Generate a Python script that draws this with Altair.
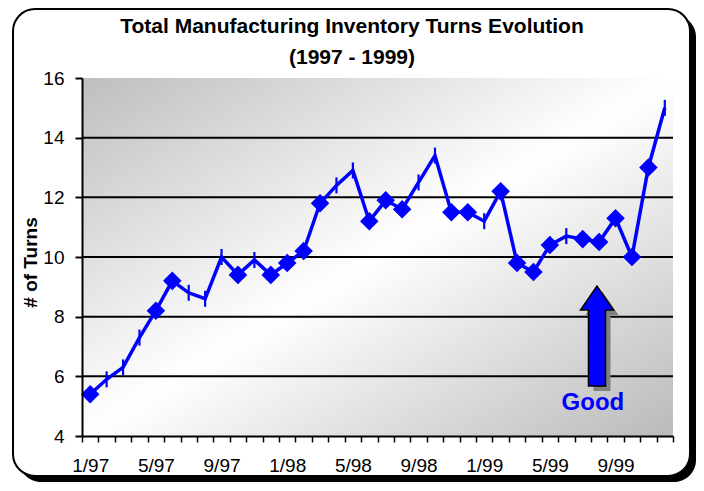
import altair as alt
import pandas as pd

# ---------------- data ----------------
months = ["1/97", "2/97", "3/97", "4/97", "5/97", "6/97", "7/97", "8/97", "9/97", "10/97", "11/97", "12/97",
          "1/98", "2/98", "3/98", "4/98", "5/98", "6/98", "7/98", "8/98", "9/98", "10/98", "11/98", "12/98",
          "1/99", "2/99", "3/99", "4/99", "5/99", "6/99", "7/99", "8/99", "9/99", "10/99", "11/99", "12/99"]
turns = [5.4, 5.9, 6.3, 7.3, 8.2, 9.2, 8.8, 8.6, 10.0, 9.4, 9.9, 9.4,
         9.8, 10.2, 11.8, 12.4, 12.9, 11.2, 11.9, 11.6, 12.5, 13.4, 11.5, 11.5,
         11.2, 12.2, 9.8, 9.5, 10.4, 10.7, 10.6, 10.5, 11.3, 10.0, 13.0, 15.0]
markers = ["diamond", "tick", "tick", "tick", "diamond", "diamond", "tick", "tick", "tick", "diamond", "tick", "diamond",
           "diamond", "diamond", "diamond", "tick", "tick", "diamond", "diamond", "diamond", "tick", "tick", "diamond", "diamond",
           "tick", "diamond", "diamond", "diamond", "diamond", "tick", "diamond", "diamond", "diamond", "diamond", "diamond", "tick"]
label_every = 4
y_ticks = [4, 6, 8, 10, 12, 14, 16]
grid_values = [6, 8, 10, 12, 14]

title_lines = ["Total Manufacturing Inventory Turns Evolution", "(1997 - 1999)"]
y_title = "# of Turns"

# annotation ("Good" arrow), in data units (month index, turns)
arrow_x = [30.87]
arrow_y = [7.35]
good_x = [30.62]
good_y = [5.1]
good_text = ["Good"]

# ---------------- layout ----------------
W, H = 591, 358
PAD = {"left": 74, "top": 70, "right": 23, "bottom": 47}
FONT = "Liberation Sans"
BLUE = "#0000FF"

df = pd.DataFrame({"idx": list(range(len(months))), "month": months,
                   "turns": turns, "marker": markers})

n = len(months)
x_scale = alt.Scale(domain=[-0.5, n - 0.5], nice=False, zero=False)
y_scale = alt.Scale(domain=[4, 16], nice=False, zero=False)

tick_values = [i - 0.5 for i in range(n + 1)]
arr = "[" + ",".join("'" + m + "'" for m in months) + "]"
label_expr = (f"(datum.value + 0.5) % {label_every} == 0 && datum.value < {n - 1} "
              f"? {arr}[datum.value + 0.5] : ''")

x_axis = alt.Axis(values=tick_values, tickCount=len(tick_values) + 5, labelExpr=label_expr,
                  labelOffset=W / n / 2,
                  labelFlush=False, labelOverlap=False, labelBound=False,
                  title=None, grid=False, tickSize=6, tickWidth=1.5, tickColor="black",
                  domainColor="black", domainWidth=2, labelFontSize=19, labelFont=FONT,
                  labelColor="black", labelPadding=14, zindex=1)
y_axis = alt.Axis(values=y_ticks, title=y_title, grid=False, tickSize=7, tickWidth=2,
                  tickColor="black", domainColor="black", domainWidth=2,
                  labelFontSize=19, labelFont=FONT, labelColor="black", labelPadding=11,
                  titleFont=FONT, titleFontSize=19, titleFontWeight="bold", titleColor="black",
                  titleAngle=270, titleBaseline="middle", titleX=-52, titleY=H / 2 + 5, zindex=1)

one = alt.Data(values=[{"k": 1}])

# outer rounded frame with shadow
shadow = alt.Chart(one).mark_rect(fill="black", cornerRadius=22).encode(
    x=alt.value(-63), x2=alt.value(614), y=alt.value(-63), y2=alt.value(404))
frame = alt.Chart(one).mark_rect(fill="white", stroke="black", strokeWidth=2, cornerRadius=22).encode(
    x=alt.value(-69), x2=alt.value(608), y=alt.value(-69), y2=alt.value(398))

gradient = alt.LinearGradient(
    gradient="linear", x1=0, y1=0, x2=1, y2=1,
    stops=[alt.GradientStop(color="#bebebe", offset=0),
           alt.GradientStop(color="#ffffff", offset=0.5),
           alt.GradientStop(color="#bababa", offset=1)])
background = alt.Chart(one).mark_rect(fill=gradient).encode(
    x=alt.value(0), x2=alt.value(W), y=alt.value(0), y2=alt.value(H))

# chart title as text (two lines), centred like the reference
title = alt.Chart(one).mark_text(
    text=title_lines, font=FONT, fontSize=21, fontWeight="bold", color="black",
    align="center", baseline="middle", lineHeight=31).encode(
    x=alt.value(270), y=alt.value(-51))

grid = alt.Chart(pd.DataFrame({"g": grid_values})).mark_rule(color="black", strokeWidth=2).encode(
    y=alt.Y("g:Q", scale=y_scale, axis=y_axis))

base = alt.Chart(df).encode(
    x=alt.X("idx:Q", scale=x_scale, axis=x_axis),
    y=alt.Y("turns:Q", scale=y_scale, axis=y_axis))

line = base.mark_line(color=BLUE, strokeWidth=3.5)
diamonds = base.transform_filter(alt.datum.marker == "diamond").mark_point(
    shape="diamond", size=270, filled=True, fill=BLUE, stroke=BLUE, strokeWidth=1.5, opacity=1)
ticks = base.transform_filter(alt.datum.marker == "tick").mark_point(
    shape="M0,-1L0,1", size=256, filled=False, stroke=BLUE, strokeWidth=2.2, opacity=1)

arrow_path = "M0,-1L0.33,-0.52L0.17,-0.52L0.17,1L-0.17,1L-0.17,-0.52L-0.33,-0.52Z"
arrow_df = pd.DataFrame({"idx": arrow_x, "turns": arrow_y})
arrow_base = alt.Chart(arrow_df).encode(
    x=alt.X("idx:Q", scale=x_scale, axis=x_axis),
    y=alt.Y("turns:Q", scale=y_scale, axis=y_axis))
arrow_shadow = arrow_base.mark_point(
    shape=arrow_path, size=10000, filled=True, fill="#7f7f7f", strokeWidth=0, opacity=1,
    xOffset=5, yOffset=5)
arrow = arrow_base.mark_point(
    shape=arrow_path, size=10000, filled=True, fill=BLUE, stroke="black", strokeWidth=1.5,
    opacity=1)

good = alt.Chart(pd.DataFrame({"idx": good_x, "turns": good_y, "t": good_text})).mark_text(
    font=FONT, fontSize=24, fontWeight="bold", color=BLUE, align="center", baseline="middle").encode(
    x=alt.X("idx:Q", scale=x_scale, axis=x_axis),
    y=alt.Y("turns:Q", scale=y_scale, axis=y_axis), text="t:N")

chart = alt.layer(shadow, frame, background, title, grid, line, ticks, diamonds,
                  arrow_shadow, arrow, good).properties(
    width=W, height=H,
    autosize=alt.AutoSizeParams(type="none"),
    padding=PAD,
).configure_view(stroke="black", strokeWidth=2).configure(background="white")

chart.save("out.html", embed_options={"renderer": "svg", "actions": False})
